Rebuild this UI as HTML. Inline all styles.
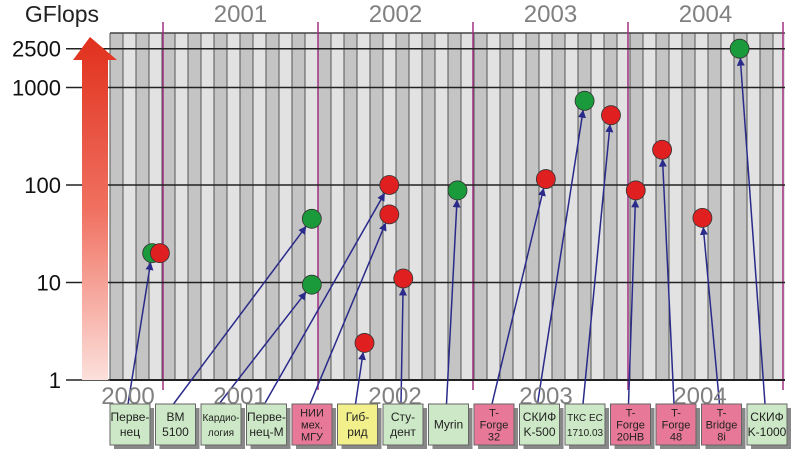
<!DOCTYPE html>
<html><head><meta charset="utf-8"><style>
body{margin:0;background:#fff;}
svg{display:block;font-family:"Liberation Sans","Noto Sans CJK SC",sans-serif;}
</style></head><body>
<svg id="c" width="800" height="452" viewBox="0 0 800 452">
<defs>
<linearGradient id="ag" x1="0" y1="0" x2="0" y2="1">
<stop offset="0" stop-color="#e0301c"/><stop offset="0.5" stop-color="#f07060"/><stop offset="1" stop-color="#fce0dc"/>
</linearGradient>
<marker id="ah" markerWidth="8" markerHeight="8" refX="7" refY="4" orient="auto" markerUnits="userSpaceOnUse">
<path d="M0,0 L8,4 L0,8 z" fill="#2a2a8a"/></marker>
</defs>
<g id="plot"></g>
<text x="62" y="22" font-size="23" fill="#222" text-anchor="middle">GFlops</text>
<path d="M90,37 L117,60 L108,60 L108,380 L82,380 L82,60 L73,60 z" fill="url(#ag)"/>
<g id="ann"></g>
</svg>
<script>
const yearLabels=["2001","2002","2003","2004"];
const bottomYears=["2000","2001","2002","2003","2004"];
const yTicks=[1,10,100,1000,2500];
const names=["Перве-|нец","BM|5100","Кардио-|логия","Перве-|нец-М","НИИ|мех.|МГУ","Гиб-|рид","Сту-|дент","Myrin","T-|Forge|32","СКИФ|K-500","ТКС ЕС|1710.03","T-|Forge|20HB","T-|Forge|48","T-|Bridge|8i","СКИФ|K-1000"];
const kinds=["g","g","g","g","p","y","g","g","p","g","g","p","p","p","g"];
const dates=[2000.93,2001.96,2001.96,2002.46,2002.46,2002.30,2002.55,2002.90,2003.47,2003.72,2003.89,2004.05,2004.22,2004.48,2004.72];
const gflops=[20,45,9.5,100,50,2.4,11,88,115,730,520,88,230,46,2500];
const pointColors=["g","g","g","r","r","r","r","g","r","g","r","r","r","r","g"];
const extraDates=[2000.98];const extraVals=[20];const extraColors=["r"];

const NS="http://www.w3.org/2000/svg";
const svg=document.getElementById('c'),plot=document.getElementById('plot'),ann=document.getElementById('ann');
function el(t,a,p){const e=document.createElementNS(NS,t);for(const k in a)e.setAttribute(k,a[k]);(p||svg).appendChild(e);return e;}
const X0=110,X1=785,YT=33,YB=380;
const xS=d=>163+(d-2001)*155;
const yS=v=>380-Math.log10(v)*97.5;
const sw=13;
for(let i=0,x=X0;x<X1;i++,x+=sw){
 const r=el('rect',{x:x,y:YT,width:Math.min(sw,X1-x),height:YB-YT,fill:i%2?'#e2e2e2':'#c4c4c4'},plot);
 
 
 el('line',{x1:x,y1:YT,x2:x,y2:YB,stroke:'#555','stroke-width':1},plot);
}
el('line',{x1:X0,y1:YT,x2:X1,y2:YT,stroke:'#444','stroke-width':1.5},plot);
for(let y=2000;y<=2005;y++){const x=xS(y);if(x<X0-1)continue;
 el('line',{x1:x,y1:22,x2:x,y2:YB+10,stroke:'#a03080','stroke-width':1.5},plot);}
yearLabels.forEach((t,i)=>{const e=el('text',{x:xS(2001+i+0.5),y:22,'font-size':24,fill:'#808080','text-anchor':'middle'},plot);e.textContent=t;
 
 });
yTicks.forEach(v=>{const y=yS(v);el('line',{x1:66,y1:y,x2:X1,y2:y,stroke:'#222','stroke-width':1.5},plot);
 const t=el('text',{x:61,y:y+8,'font-size':22,fill:'#111','text-anchor':'end'},plot);t.textContent=v;
 
 });
el('line',{x1:X0,y1:YB,x2:X1,y2:YB,stroke:'#222','stroke-width':2},plot);
const byX=[128,240,395,546,700];
bottomYears.forEach((t,i)=>{const e=el('text',{x:byX[i],y:404,'font-size':24,fill:'#808080','text-anchor':'middle'});e.textContent=t;
 
 });
const fills={g:'#cde8c6',p:'#e87898',y:'#f2f08a'};
const dotC={g:'#1a9a3a',r:'#e02020'};
names.forEach((n,i)=>{
 const bx=110+i*45.5,by=404,bw=40,bh=41;
 el('rect',{x:bx+4,y:by+4,width:bw,height:bh,fill:'#888'});
 const b=el('rect',{x:bx,y:by,width:bw,height:bh,fill:fills[kinds[i]],stroke:'#666','stroke-width':1});
 
 
 const lines=n.split('|');
 const long=lines.some(l=>l.length>6);
 const fs=long?10:(lines.length==3?11:12);
 const lh=lines.length==3?12:15;
 const t0=by+bh/2-(lines.length-1)*lh/2+4;
 lines.forEach((l,j)=>{const t=el('text',{x:bx+bw/2,y:t0+j*lh,'font-size':fs,fill:'#222','text-anchor':'middle'});t.textContent=l;});
 const px=xS(dates[i]),py=yS(gflops[i]);
 const sx=bx+bw*0.45,sy=by;
 const dx=px-sx,dy=py-sy,L=Math.hypot(dx,dy);
 const ln=el('line',{x1:sx,y1:sy,x2:px-dx/L*10,y2:py-dy/L*10,stroke:'#2a2a8a','stroke-width':1.5,'marker-end':'url(#ah)'},ann);
 
 
});
function dot(d,v,c){const p=el('circle',{cx:xS(d),cy:yS(v),r:9.5,fill:dotC[c],stroke:'#333','stroke-width':0.8});
 
 }
dates.forEach((d,i)=>dot(d,gflops[i],pointColors[i]));
extraDates.forEach((d,i)=>dot(d,extraVals[i],extraColors[i]));
</script>
</body></html>
